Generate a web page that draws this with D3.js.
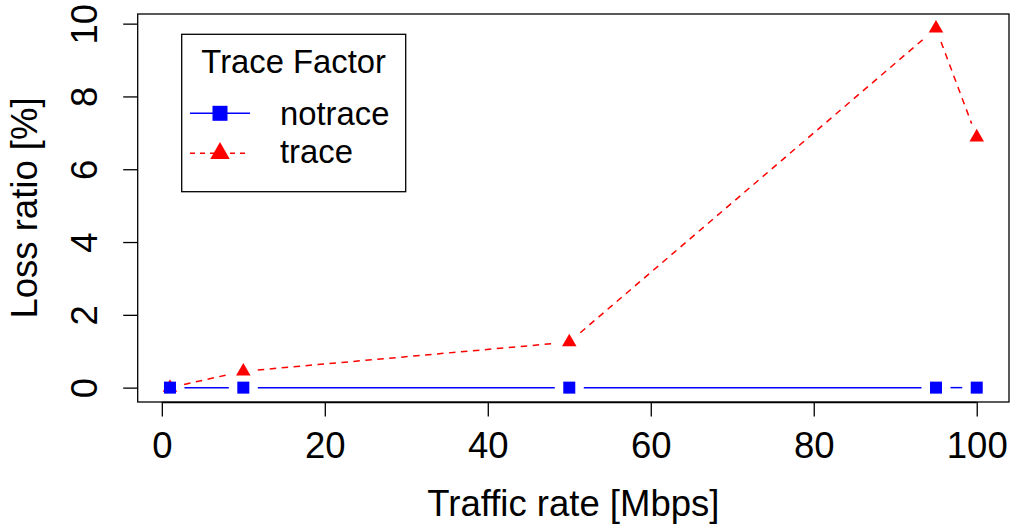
<!DOCTYPE html>
<html><head><meta charset="utf-8">
<script src="https://cdn.jsdelivr.net/npm/d3@7/dist/d3.min.js"></script>
<style>body{margin:0;background:#fff}svg{display:block}text{font-family:"Liberation Sans",Arial,Helvetica,sans-serif;fill:#000}</style>
</head><body><svg id="c" width="1011" height="528"></svg>
<script>
const rates = [1, 10, 50, 95, 100];
const notrace = [0, 0, 0, 0, 0];
const trace = [0, 0.45, 1.25, 9.87, 6.88];
const xTicks = [0, 20, 40, 60, 80, 100];
const yTicks = [0, 2, 4, 6, 8, 10];
const seriesNames = ["notrace", "trace"];
const seriesColors = ["#0000ff", "#ff0000"];
const legendTitle = "Trace Factor";
const xLabel = "Traffic rate [Mbps]";
const yLabel = "Loss ratio [%]";

const svg = d3.select("#c");
const L = 137.7, R = 1009, T = 14, B = 402;
const pad = (lo, hi) => [lo - 0.04 * (hi - lo), hi + 0.04 * (hi - lo)];
const allY = notrace.concat(trace);
const x = d3.scaleLinear().domain(pad(d3.min(rates), d3.max(rates))).range([L, R]);
const y = d3.scaleLinear().domain(pad(d3.min(allY), d3.max(allY))).range([B, T]);

// axes
const fs = 36.5;
const xa = svg.append("g").attr("transform", `translate(0,${B})`)
  .call(d3.axisBottom(x).tickValues(xTicks).tickSize(14.5).tickSizeOuter(0).tickPadding(27).tickFormat(d3.format("d")));
xa.select(".domain").attr("d", `M${x(xTicks[0])},0.5H${x(xTicks[xTicks.length-1])}`).attr("stroke", "#000").attr("stroke-width", 1.3);
xa.selectAll(".tick line").attr("stroke", "#000").attr("stroke-width", 1.3);
xa.selectAll(".tick text").attr("font-size", fs).attr("font-family", null).attr("dy", 0).attr("y", 56).attr("fill", "#000");

const ya = svg.append("g").attr("transform", `translate(${L},0)`)
  .call(d3.axisLeft(y).tickValues(yTicks).tickSize(14.5).tickSizeOuter(0).tickFormat(d3.format("d")));
ya.select(".domain").remove();
ya.selectAll(".tick line").attr("stroke", "#000").attr("stroke-width", 1.3);
ya.selectAll(".tick text").attr("font-size", fs).attr("font-family", null)
  .attr("x", 0).attr("dy", 0).attr("text-anchor", "middle").attr("fill", "#000")
  .attr("transform", "translate(-41,0) rotate(-90)");

// box
svg.append("rect").attr("x", L).attr("y", T).attr("width", R - L).attr("height", B - T)
  .attr("fill", "none").attr("stroke", "#000").attr("stroke-width", 1.3);

// labels
svg.append("text").attr("x", (L + R) / 2).attr("y", 516).attr("text-anchor", "middle").attr("font-size", fs).text(xLabel);
svg.append("text").attr("transform", `translate(36.5,${(T + B) / 2}) rotate(-90)`).attr("text-anchor", "middle").attr("font-size", fs).text(yLabel);

// series (type "b": lines with gaps at points)
const gap = 14.5;
function gappedSegments(vals) {
  const pts = rates.map((r, i) => [x(r), y(vals[i])]);
  const segs = [];
  for (let i = 0; i < pts.length - 1; i++) {
    const [x0, y0] = pts[i], [x1, y1] = pts[i + 1];
    const dx = x1 - x0, dy = y1 - y0, len = Math.hypot(dx, dy);
    if (len > 2 * gap) {
      const ux = dx / len, uy = dy / len;
      segs.push([x0 + ux * gap, y0 + uy * gap, x1 - ux * gap, y1 - uy * gap]);
    }
  }
  return segs;
}
const tri = (cx, cy, w) => {
  const h = w * Math.sqrt(3) / 2;
  return `M${cx},${cy - 2 * h / 3}L${cx + w / 2},${cy + h / 3}L${cx - w / 2},${cy + h / 3}Z`;
};

svg.append("g").selectAll("line").data(gappedSegments(notrace)).join("line")
  .attr("x1", d => d[0]).attr("y1", d => d[1]).attr("x2", d => d[2]).attr("y2", d => d[3])
  .attr("stroke", seriesColors[0]).attr("stroke-width", 1.5);
svg.append("g").selectAll("line").data(gappedSegments(trace)).join("line")
  .attr("x1", d => d[0]).attr("y1", d => d[1]).attr("x2", d => d[2]).attr("y2", d => d[3])
  .attr("stroke", seriesColors[1]).attr("stroke-width", 1.5).attr("stroke-dasharray", "6.5,5.5");

svg.append("g").selectAll("path").data(trace).join("path")
  .attr("d", (d, i) => tri(x(rates[i]), y(d), 14.5)).attr("fill", seriesColors[1]);
svg.append("g").selectAll("rect").data(notrace).join("rect")
  .attr("x", (d, i) => x(rates[i]) - 6).attr("y", d => y(d) - 6).attr("width", 12).attr("height", 12)
  .attr("fill", seriesColors[0]);

// legend
const lg = svg.append("g");
lg.append("rect").attr("x", 181.7).attr("y", 34.3).attr("width", 224).attr("height", 157.4)
  .attr("fill", "#fff").attr("stroke", "#000").attr("stroke-width", 1.3);
lg.append("text").attr("x", 293.7).attr("y", 73.3).attr("text-anchor", "middle").attr("font-size", 32.8).text(legendTitle);
const ly = [113.3, 153.3], lb = [125.3, 163.3];
seriesNames.forEach((name, i) => {
  lg.append("line").attr("x1", 190).attr("x2", 250).attr("y1", ly[i]).attr("y2", ly[i])
    .attr("stroke", seriesColors[i]).attr("stroke-width", 1.5)
    .attr("stroke-dasharray", i === 1 ? "5,5" : null);
  if (i === 0) lg.append("rect").attr("x", 212.5).attr("y", ly[i] - 7.5).attr("width", 15).attr("height", 15).attr("fill", seriesColors[i]);
  else lg.append("path").attr("d", tri(220, ly[i], 19.5)).attr("fill", seriesColors[i]);
  lg.append("text").attr("x", 280).attr("y", lb[i]).attr("font-size", 32.8).text(name);
});
</script></body></html>
